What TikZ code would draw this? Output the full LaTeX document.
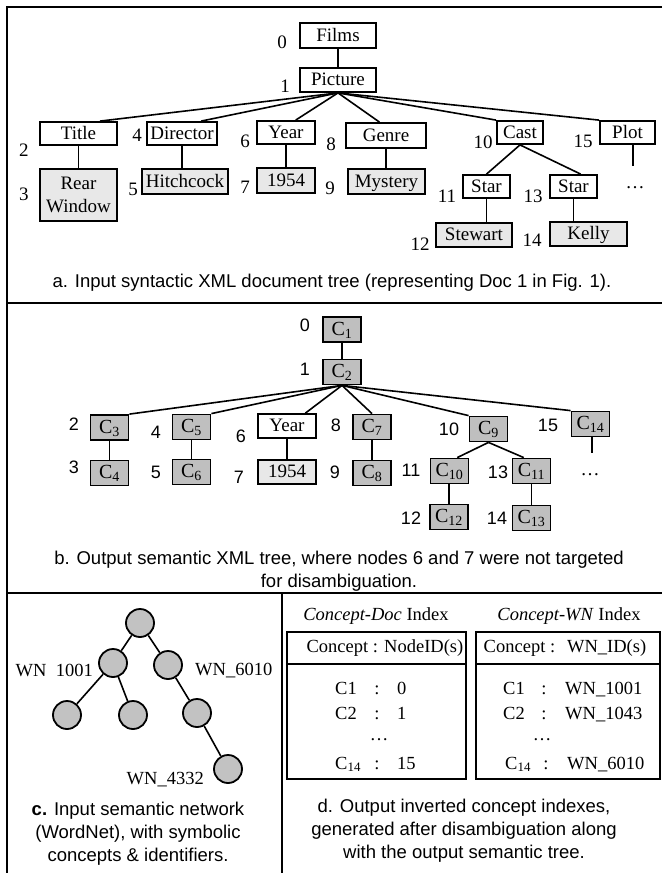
\documentclass[tikz,border=0pt]{standalone}
\usepackage{fontspec}
\setmainfont{Liberation Serif}
\setsansfont{Liberation Sans}
\definecolor{valfill}{gray}{0.91}
\definecolor{conceptfill}{gray}{0.75}
\definecolor{wnfill}{gray}{0.76}
\newcommand{\cid}[1]{C\textsubscript{#1}}
\begin{document}
\begin{tikzpicture}[x=1pt,y=-1pt,
  tag/.style={draw,line width=1.8pt,inner sep=0pt,text height=14pt,text depth=2.5pt,font=\fontsize{19}{21}\selectfont},
  val/.style={tag,fill=valfill},
  cpt/.style={tag,fill=conceptfill,minimum width=38pt,minimum height=25pt,font=\fontsize{20}{22}\selectfont},
  num/.style={inner sep=0pt,font=\fontsize{19}{21}\selectfont},
  snum/.style={inner sep=0pt,font=\sffamily\fontsize{18}{20}\selectfont},
  capt/.style={align=center,inner sep=0pt,font=\sffamily\fontsize{18.5}{23}\selectfont},
  link/.style={line width=1.6pt},
  rule/.style={line width=2.8pt},
  wn/.style={circle,draw,line width=1.8pt,fill=wnfill,minimum size=28pt,inner sep=0pt},
  idx/.style={inner sep=0pt,font=\fontsize{18.5}{20}\selectfont}]
\useasboundingbox (0,0) rectangle (662,873);
\draw[rule] (662,7) -- (7,7) -- (7,873);
\draw[rule] (7,303) -- (662,303);
\draw[rule] (7,593) -- (662,593);
\draw[rule] (282,593) -- (282,873);
% a. syntactic tree
\node[tag,minimum width=76pt,minimum height=25pt] (films) at (338,35.5) {Films};
\node[tag,minimum width=76pt,minimum height=24pt] (picture) at (338,80) {Picture};
\node[tag,minimum width=77pt,minimum height=23pt] (title) at (78.5,133.5) {Title};
\node[draw,line width=1.8pt,fill=valfill,inner sep=0pt,align=center,minimum width=77pt,minimum height=52pt,font=\fontsize{19}{23}\selectfont] (rear) at (78.5,195) {Rear\\Window};
\node[tag,minimum width=70pt,minimum height=23pt] (director) at (182,133.5) {Director};
\node[val,minimum width=86pt,minimum height=25pt] (hitch) at (185,181.5) {Hitchcock};
\node[tag,minimum width=58pt,minimum height=23pt] (year) at (286,132.5) {Year};
\node[val,minimum width=58pt,minimum height=25pt] (yval) at (286,180.5) {1954};
\node[tag,minimum width=80pt,minimum height=25pt] (genre) at (386,135.5) {Genre};
\node[val,minimum width=77pt,minimum height=25pt] (mystery) at (386.5,181.5) {Mystery};
\node[tag,minimum width=46pt,minimum height=23pt] (cast) at (520,132.5) {Cast};
\node[tag,minimum width=55pt,minimum height=23pt] (plot) at (627.5,132.5) {Plot};
\node[tag,minimum width=47pt,minimum height=23pt] (star1) at (486.5,186.5) {Star};
\node[tag,minimum width=47pt,minimum height=23pt] (star2) at (573.5,186.5) {Star};
\node[val,minimum width=76pt,minimum height=24pt] (stewart) at (474,235) {Stewart};
\node[val,minimum width=77pt,minimum height=24pt] (kelly) at (588.5,234) {Kelly};
\coordinate (plotend) at (633,166);
\node[num] (a0) at (282,42) {0};
\node[num] (a1) at (285,86) {1};
\node[num] (a2) at (24,150) {2};
\node[num] (a3) at (24,194) {3};
\node[num] (a4) at (137,135) {4};
\node[num] (a5) at (133,189) {5};
\node[num] (a6) at (245,141) {6};
\node[num] (a7) at (245,187) {7};
\node[num] (a8) at (331,144) {8};
\node[num] (a9) at (330,188) {9};
\node[num] (a10) at (483,142) {10};
\node[num] (a15) at (583,141) {15};
\node[num] (a11) at (447,196) {11};
\node[num] (a13) at (533,196) {13};
\node[num] (a12) at (420,244) {12};
\node[num] (a14) at (532,240) {14};
\node[num] (adots) at (635,188) {\dots};
\draw[link] (films) -- (picture);
\draw[link] (picture.south) -- (title.30);
\draw[link] (picture.south) -- (director.33);
\draw[link] (picture.south) -- (year.52);
\draw[link] (picture.south) -- (genre.116);
\draw[link] (picture.south) -- (cast.north west);
\draw[link] (picture.south) -- (plot.north west);
\draw[link] (title) -- (rear);
\draw[link] (director.south) -- (director.south |- hitch.north);
\draw[link] (year) -- (yval);
\draw[link] (genre) -- (genre.south |- mystery.north);
\draw[link] (cast.south) -- (star1.north);
\draw[link] (cast.south) -- (star2.60);
\draw[link] (star1.south) -- (star1.south |- stewart.north);
\draw[link] (star2.south) -- (star2.south |- kelly.north);
\draw[link] (plot.south -| plotend) -- (plotend);
\node[capt] (capa) at (332,283) {a. Input syntactic XML document tree (representing Doc 1 in Fig. 1).};
% b. semantic tree
\node[cpt] (c1) at (342,329.5) {\cid{1}};
\node[cpt] (c2) at (342,372) {\cid{2}};
\node[cpt] (c3) at (109.5,427.5) {\cid{3}};
\node[cpt] (c4) at (109.5,473) {\cid{4}};
\node[cpt] (c5) at (191.5,427) {\cid{5}};
\node[cpt] (c6) at (191.5,472) {\cid{6}};
\node[tag,minimum width=58pt,minimum height=24pt] (yearb) at (287,426) {Year};
\node[val,minimum width=58pt,minimum height=24pt] (yvalb) at (287,472) {1954};
\node[cpt] (c7) at (372,427) {\cid{7}};
\node[cpt] (c8) at (372,473) {\cid{8}};
\node[cpt] (c9) at (488.5,429) {\cid{9}};
\node[cpt] (c14) at (590.5,424) {\cid{14}};
\node[cpt] (c10) at (449.5,471) {\cid{10}};
\node[cpt] (c11) at (531.5,471) {\cid{11}};
\node[cpt] (c12) at (449,517) {\cid{12}};
\node[cpt] (c13) at (531.5,518) {\cid{13}};
\coordinate (c14end) at (592,453);
\node[snum] (b0) at (305,325) {0};
\node[snum] (b1) at (305,369) {1};
\node[snum] (b2) at (74,424) {2};
\node[snum] (b3) at (74,467) {3};
\node[snum] (b4) at (156,432) {4};
\node[snum] (b5) at (156,472) {5};
\node[snum] (b6) at (241,436) {6};
\node[snum] (b7) at (239,477) {7};
\node[snum] (b8) at (336,425) {8};
\node[snum] (b9) at (335,472) {9};
\node[snum] (b10) at (449,429) {10};
\node[snum] (b15) at (548,425) {15};
\node[snum] (b11) at (411,470) {11};
\node[snum] (b13) at (498,472) {13};
\node[snum] (b12) at (411,518) {12};
\node[snum] (b14) at (497,518) {14};
\node[num] (bdots) at (590,475) {\dots};
\draw[link] (c1) -- (c2);
\draw[link] (c2.south) -- (c3.north east);
\draw[link] (c2.south) -- (c5.north east);
\draw[link] (c2.south) -- (yearb.35);
\draw[link] (c2.south) -- (c7.north);
\draw[link] (c2.south) -- (c9.north west);
\draw[link] (c2.south) -- (c14.north west);
\draw[link] (c3) -- (c4);
\draw[link] (c5) -- (c6);
\draw[link] (yearb) -- (yvalb);
\draw[link] (c7) -- (c8);
\draw[link] (c9.south) -- (c10.60);
\draw[link] (c9.south) -- (c11.120);
\draw[link] (c10.south -| c12) -- (c12.north);
\draw[link] (c11.south) -- (c13.north);
\draw[link] (c14.south -| c14end) -- (c14end);
\node[capt] (capb) at (339,571.5) {b. Output semantic XML tree, where nodes 6 and 7 were not targeted\\for disambiguation.};
% c. wordnet
\node[wn] (w0) at (140,623) {};
\node[wn] (w1) at (113,663) {};
\node[wn] (w2) at (168,665) {};
\node[wn] (w3) at (67,715) {};
\node[wn] (w4) at (133,715) {};
\node[wn] (w5) at (197,713) {};
\node[wn] (w6) at (228,769) {};
\draw[link] (w0) -- (w1);
\draw[link] (w0) -- (w2);
\draw[link] (w1) -- (w3);
\draw[link] (w1) -- (w4);
\draw[link] (w2) -- (w5);
\draw[link] (w5) -- (w6);
\node[idx,anchor=east] (l1001) at (93,670) {WN\ \ 1001};
\node[idx,anchor=west] (l6010) at (195,671) {WN\_6010};
\node[idx,anchor=east] (l4332) at (204,780) {WN\_4332};
\node[capt] (capc) at (138,834) {\textbf{c.} Input semantic network\\(WordNet), with symbolic\\concepts \& identifiers.};
% d. indexes
\node[idx] (doctitle) at (376,616) {\textit{Concept-Doc} Index};
\draw[line width=1.8pt] (287,632) rectangle (466,779);
\draw[line width=1.8pt] (287,664) -- (466,664);
\node[idx] (dochead) at (385,648) {Concept : NodeID(s)};
\node[idx,anchor=base west] (d1) at (335,694) {C1};
\node[idx,anchor=base] (d1s) at (377,694) {:};
\node[idx,anchor=base west] (d1v) at (397,694) {0};
\node[idx,anchor=base west] (d2) at (335,719) {C2};
\node[idx,anchor=base] (d2s) at (377,719) {:};
\node[idx,anchor=base west] (d2v) at (397,719) {1};
\node[idx,anchor=base] (ddots) at (379,740) {\dots};
\node[idx,anchor=base west] (d14) at (335,769) {\cid{14}};
\node[idx,anchor=base] (d14s) at (377,769) {:};
\node[idx,anchor=base west] (d14v) at (397,769) {15};
\node[idx] (wntitle) at (569,616) {\textit{Concept-WN} Index};
\draw[line width=1.8pt] (476,632) rectangle (660,779);
\draw[line width=1.8pt] (476,664) -- (660,664);
\node[idx] (wnhead) at (565,648) {Concept :\hspace{12pt}WN\_ID(s)};
\node[idx,anchor=base west] (n1) at (503,694) {C1};
\node[idx,anchor=base] (n1s) at (544,694) {:};
\node[idx,anchor=base west] (n1v) at (565,694) {WN\_1001};
\node[idx,anchor=base west] (n2) at (503,719) {C2};
\node[idx,anchor=base] (n2s) at (544,719) {:};
\node[idx,anchor=base west] (n2v) at (565,719) {WN\_1043};
\node[idx,anchor=base] (ndots) at (542,740) {\dots};
\node[idx,anchor=base west] (n14) at (505,769) {\cid{14}};
\node[idx,anchor=base] (n14s) at (546,769) {:};
\node[idx,anchor=base west] (n14v) at (567,769) {WN\_6010};
\node[capt] (capd) at (464,831) {d. Output inverted concept indexes,\\generated after disambiguation along\\with the output semantic tree.};
\end{tikzpicture}
\end{document}
